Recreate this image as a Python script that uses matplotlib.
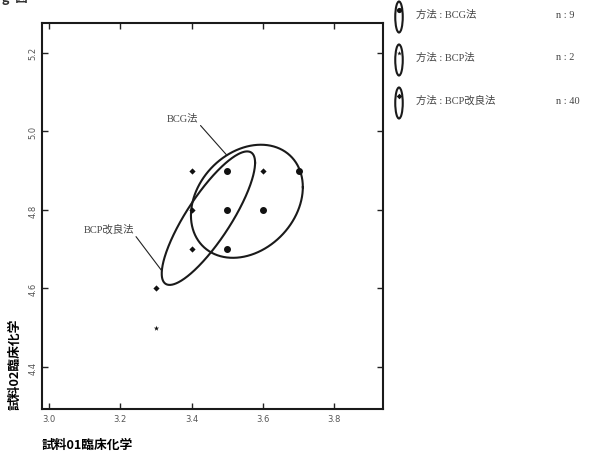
import numpy as np
import matplotlib
matplotlib.use("Agg")
import matplotlib.pyplot as plt
from matplotlib.patches import Ellipse

plt.rcParams["font.family"] = ["DejaVu Sans", "Noto Sans CJK JP"]
SERIF = ["Liberation Serif", "Noto Sans CJK JP"]
BOLD = ["Noto Sans CJK JP", "DejaVu Sans"]

# 測定値（方法別）
bcg_x = [3.5, 3.7, 3.5, 3.6, 3.5]
bcg_y = [4.9, 4.9, 4.8, 4.8, 4.7]
bcp_x = [3.3]
bcp_y = [4.5]
kai_x = [3.4, 3.6, 3.4, 3.4, 3.3]
kai_y = [4.9, 4.9, 4.8, 4.7, 4.6]

methods = ["BCG法", "BCP法", "BCP改良法"]
counts = [9, 2, 40]

# 確率楕円: 中心, x/y 半径, 相関
bcg_ell = (3.555, 4.822, 0.157, 0.144, 0.25)
kai_ell = (3.447, 4.779, 0.131, 0.170, 0.83)

x_ticks = [3.0, 3.2, 3.4, 3.6, 3.8]
y_ticks = [4.4, 4.6, 4.8, 5.0, 5.2]


def ellipse_xy(p, t):
    mx, my, hx, hy, r = p
    x = mx + hx * np.cos(t)
    y = my + hy * (r * np.cos(t) + np.sqrt(1 - r * r) * np.sin(t))
    return x, y


fig = plt.figure(figsize=(6.12, 4.52), dpi=100)
W, H = 612, 452
ax = fig.add_axes([42 / W, 1 - 410 / H, (383 - 42) / W, (410 - 24) / H])
ax.set_xlim(2.98, 3.937)
ax.set_ylim(4.293, 5.276)

t = np.linspace(0, 2 * np.pi, 400)
for p in (bcg_ell, kai_ell):
    ex, ey = ellipse_xy(p, t)
    ax.plot(ex, ey, color="#1a1a1a", lw=1.5)

ax.scatter(bcg_x, bcg_y, s=16, marker="o", color="#111111", zorder=3)
ax.scatter(kai_x, kai_y, s=10, marker="D", color="#111111", lw=0, zorder=3)
ax.scatter(bcp_x, bcp_y, s=16, marker="*", color="#111111", lw=0, zorder=3)

# 楕円ラベル
x1, y1 = ellipse_xy(bcg_ell, np.deg2rad(111))
ax.annotate("BCG法", xy=(x1, y1), xytext=(3.418, 5.022), ha="right", va="bottom",
            fontsize=7.5, family=SERIF, color="#444444",
            arrowprops=dict(arrowstyle="-", color="#222222", lw=0.8, relpos=(1, 0),
                            shrinkA=0, shrinkB=0))
x2, y2 = ellipse_xy(kai_ell, np.deg2rad(176))
ax.annotate("BCP改良法", xy=(x2, y2), xytext=(3.238, 4.739), ha="right", va="bottom",
            fontsize=7.5, family=SERIF, color="#444444",
            arrowprops=dict(arrowstyle="-", color="#222222", lw=0.8, relpos=(1, 0),
                            shrinkA=0, shrinkB=0))

ax.set_xticks(x_ticks)
ax.set_xticklabels([f"{v:.1f}" for v in x_ticks])
ax.set_yticks(y_ticks)
ax.set_yticklabels([f"{v:.1f}" for v in y_ticks], rotation=90, va="center")
ax.tick_params(direction="in", length=4, width=1, top=True, right=True,
               labelsize=6, labelcolor="#555555", color="#222222")
for s in ax.spines.values():
    s.set_linewidth(1.5)
    s.set_color("#1a1a1a")

# 軸ラベル
fig.text(42 / W, 1 - 445 / H, "試料01臨床化学", fontsize=9.2, fontweight="bold",
         family=BOLD, ha="left", va="center")
fig.text(15 / W, 1 - 410 / H, "試料02臨床化学", fontsize=9.2, fontweight="bold",
         family=BOLD, rotation=90, ha="center", va="bottom")
fig.text(2 / W, 1 - 5 / H, "g  図  -", fontsize=9, fontweight="bold", color="#333333",
         family=BOLD, ha="left", va="bottom")

# 凡例（プロット右側）
lax = fig.add_axes([0, 0, 1, 1])
lax.set_xlim(0, W)
lax.set_ylim(H, 0)
lax.axis("off")
legend_markers = [("o", 14), ("*", 12), ("D", 8)]
for i, (m, n) in enumerate(zip(methods, counts)):
    yc = 18 + i * 43
    lax.add_patch(Ellipse((399, yc), 7.5, 31, fill=False, lw=1.5, color="#1a1a1a"))
    mk, sz = legend_markers[i]
    lax.scatter([399], [yc - 7], marker=mk, s=sz, color="#111111", lw=0)
    lax.text(416, yc - 3, f"方法 : {m}", fontsize=7.5, family=SERIF,
             color="#444444", va="center")
    lax.text(556, yc - 3, f"n : {n}", fontsize=7.5, family=SERIF,
             color="#444444", va="center")

fig.savefig("out.png", dpi=100)
